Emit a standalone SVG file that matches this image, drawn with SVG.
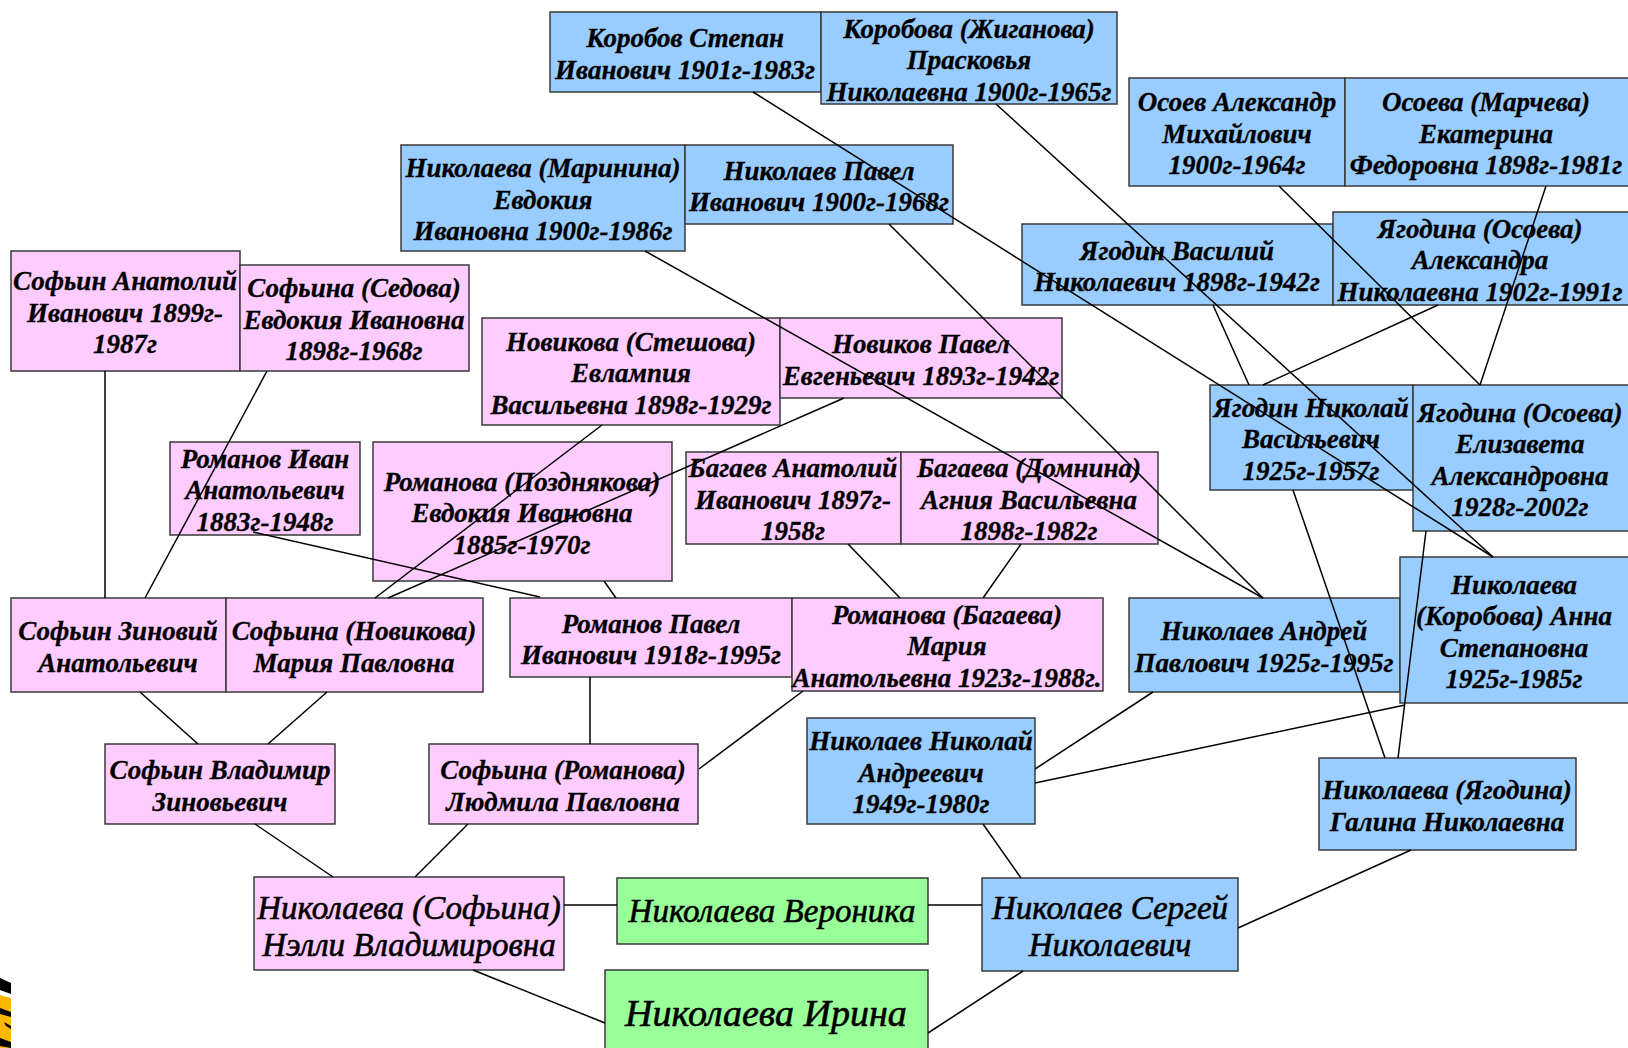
<svg xmlns="http://www.w3.org/2000/svg" width="1628" height="1048" viewBox="0 0 1628 1048">
<style>
.box{stroke:#3a3a3a;stroke-width:1.5}
.b{fill:#99CCFF}.p{fill:#FFCCFF}.g{fill:#99FF99}
text{font-family:"Liberation Serif","Times New Roman",serif;font-style:italic;font-weight:bold;font-size:27px;text-anchor:middle;fill:#000;stroke:#000;stroke-width:0.3}
.L{font-weight:normal;font-size:33px;stroke-width:0.6}
.XL{font-weight:normal;font-size:38px;stroke-width:0.6}
#connectors line{stroke:#000;stroke-width:1.5}
</style>
<rect width="1628" height="1048" fill="#fff"/>
<g id="n-korobov"><rect class="box b" x="550" y="12" width="271" height="80"/><text x="685" y="47">Коробов Степан</text><text x="685" y="79">Иванович 1901г-1983г</text></g>
<g id="n-korobova"><rect class="box b" x="821" y="12" width="296" height="92"/><text x="969" y="38">Коробова (Жиганова)</text><text x="969" y="69">Прасковья</text><text x="969" y="101">Николаевна 1900г-1965г</text></g>
<g id="n-osoev"><rect class="box b" x="1129" y="78" width="216" height="108"/><text x="1237" y="111">Осоев Александр</text><text x="1237" y="143">Михайлович</text><text x="1237" y="174">1900г-1964г</text></g>
<g id="n-osoeva"><rect class="box b" x="1345" y="78" width="284" height="108"/><text x="1486" y="111">Осоева (Марчева)</text><text x="1486" y="143">Екатерина</text><text x="1486" y="174">Федоровна 1898г-1981г</text></g>
<g id="n-marinina"><rect class="box b" x="401" y="145" width="284" height="106"/><text x="543" y="177">Николаева (Маринина)</text><text x="543" y="209">Евдокия</text><text x="543" y="240">Ивановна 1900г-1986г</text></g>
<g id="n-nikolaev-pavel"><rect class="box b" x="685" y="145" width="268" height="79"/><text x="819" y="180">Николаев Павел</text><text x="819" y="211">Иванович 1900г-1968г</text></g>
<g id="n-yagodin-vasily"><rect class="box b" x="1022" y="224" width="311" height="81"/><text x="1177" y="260">Ягодин Василий</text><text x="1177" y="291">Николаевич 1898г-1942г</text></g>
<g id="n-yagodina-aleksandra"><rect class="box b" x="1333" y="212" width="296" height="93"/><text x="1480" y="238">Ягодина (Осоева)</text><text x="1480" y="269">Александра</text><text x="1480" y="301">Николаевна 1902г-1991г</text></g>
<g id="n-sofyin-anatoly"><rect class="box p" x="11" y="251" width="229" height="120"/><text x="125" y="290">Софьин Анатолий</text><text x="125" y="322">Иванович 1899г-</text><text x="125" y="353">1987г</text></g>
<g id="n-sofyina-sedova"><rect class="box p" x="240" y="265" width="229" height="106"/><text x="354" y="297">Софьина (Седова)</text><text x="354" y="329">Евдокия Ивановна</text><text x="354" y="360">1898г-1968г</text></g>
<g id="n-novikova"><rect class="box p" x="482" y="318" width="298" height="107"/><text x="631" y="351">Новикова (Стешова)</text><text x="631" y="382">Евлампия</text><text x="631" y="414">Васильевна 1898г-1929г</text></g>
<g id="n-novikov"><rect class="box p" x="780" y="318" width="282" height="80"/><text x="921" y="353">Новиков Павел</text><text x="921" y="385">Евгеньевич 1893г-1942г</text></g>
<g id="n-yagodin-nikolay"><rect class="box b" x="1210" y="385" width="203" height="105"/><text x="1311" y="417">Ягодин Николай</text><text x="1311" y="448">Васильевич</text><text x="1311" y="480">1925г-1957г</text></g>
<g id="n-yagodina-elizaveta"><rect class="box b" x="1413" y="385" width="216" height="146"/><text x="1520" y="422">Ягодина (Осоева)</text><text x="1520" y="453">Елизавета</text><text x="1520" y="485">Александровна</text><text x="1520" y="516">1928г-2002г</text></g>
<g id="n-romanov-ivan"><rect class="box p" x="170" y="442" width="190" height="93"/><text x="265" y="468">Романов Иван</text><text x="265" y="499">Анатольевич</text><text x="265" y="531">1883г-1948г</text></g>
<g id="n-romanova-pozdnyakova"><rect class="box p" x="373" y="442" width="299" height="139"/><text x="522" y="491">Романова (Позднякова)</text><text x="522" y="522">Евдокия Ивановна</text><text x="522" y="554">1885г-1970г</text></g>
<g id="n-bagaev"><rect class="box p" x="686" y="452" width="215" height="92"/><text x="793" y="477">Багаев Анатолий</text><text x="793" y="509">Иванович 1897г-</text><text x="793" y="540">1958г</text></g>
<g id="n-bagaeva"><rect class="box p" x="901" y="452" width="257" height="92"/><text x="1029" y="477">Багаева (Домнина)</text><text x="1029" y="509">Агния Васильевна</text><text x="1029" y="540">1898г-1982г</text></g>
<g id="n-sofyin-zinovy"><rect class="box p" x="11" y="598" width="215" height="94"/><text x="118" y="640">Софьин Зиновий</text><text x="118" y="672">Анатольевич</text></g>
<g id="n-sofyina-novikova"><rect class="box p" x="226" y="598" width="257" height="94"/><text x="354" y="640">Софьина (Новикова)</text><text x="354" y="672">Мария Павловна</text></g>
<g id="n-romanov-pavel"><rect class="box p" x="510" y="598" width="282" height="79"/><text x="651" y="633">Романов Павел</text><text x="651" y="664">Иванович 1918г-1995г</text></g>
<g id="n-romanova-bagaeva"><rect class="box p" x="792" y="598" width="311" height="93"/><text x="947" y="624">Романова (Багаева)</text><text x="947" y="655">Мария</text><text x="947" y="687">Анатольевна 1923г-1988г.</text></g>
<g id="n-nikolaev-andrey"><rect class="box b" x="1129" y="598" width="271" height="94"/><text x="1264" y="640">Николаев Андрей</text><text x="1264" y="672">Павлович 1925г-1995г</text></g>
<g id="n-nikolaeva-anna"><rect class="box b" x="1400" y="557" width="229" height="146"/><text x="1514" y="594">Николаева</text><text x="1514" y="625">(Коробова) Анна</text><text x="1514" y="657">Степановна</text><text x="1514" y="688">1925г-1985г</text></g>
<g id="n-sofyin-vladimir"><rect class="box p" x="105" y="744" width="230" height="80"/><text x="220" y="779">Софьин Владимир</text><text x="220" y="811">Зиновьевич</text></g>
<g id="n-sofyina-lyudmila"><rect class="box p" x="429" y="744" width="269" height="80"/><text x="563" y="779">Софьина (Романова)</text><text x="563" y="811">Людмила Павловна</text></g>
<g id="n-nikolaev-nikolay"><rect class="box b" x="807" y="718" width="228" height="106"/><text x="921" y="750">Николаев Николай</text><text x="921" y="782">Андреевич</text><text x="921" y="813">1949г-1980г</text></g>
<g id="n-nikolaeva-galina"><rect class="box b" x="1319" y="758" width="257" height="92"/><text x="1447" y="799">Николаева (Ягодина)</text><text x="1447" y="831">Галина Николаевна</text></g>
<g id="n-nelli"><rect class="box p" x="254" y="877" width="310" height="93"/><text class="L" x="409" y="919">Николаева (Софьина)</text><text class="L" x="409" y="956">Нэлли Владимировна</text></g>
<g id="n-veronika"><rect class="box g" x="617" y="878" width="311" height="66"/><text class="L" x="772" y="922">Николаева Вероника</text></g>
<g id="n-sergey"><rect class="box b" x="982" y="878" width="256" height="93"/><text class="L" x="1110" y="919">Николаев Сергей</text><text class="L" x="1110" y="956">Николаевич</text></g>
<g id="n-irina"><rect class="box g" x="605" y="970" width="323" height="90"/><text class="XL" x="766" y="1026">Николаева Ирина</text></g>
<g id="connectors">
<line x1="753" y1="92" x2="1493" y2="557"/>
<line x1="996" y1="104" x2="1493" y2="557"/>
<line x1="1279" y1="186" x2="1480" y2="385"/>
<line x1="1546" y1="186" x2="1480" y2="385"/>
<line x1="645" y1="251" x2="1263" y2="598"/>
<line x1="889" y1="224" x2="1263" y2="598"/>
<line x1="1213" y1="305" x2="1249" y2="385"/>
<line x1="1438" y1="305" x2="1263" y2="385"/>
<line x1="1293" y1="490" x2="1385" y2="758"/>
<line x1="1426" y1="531" x2="1398" y2="758"/>
<line x1="1153" y1="692" x2="1035" y2="769"/>
<line x1="1405" y1="705" x2="1035" y2="783"/>
<line x1="983" y1="824" x2="1021" y2="878"/>
<line x1="1411" y1="850" x2="1238" y2="928"/>
<line x1="564" y1="905" x2="617" y2="905"/>
<line x1="928" y1="905" x2="982" y2="905"/>
<line x1="473" y1="970" x2="605" y2="1023"/>
<line x1="928" y1="1033" x2="1023" y2="971"/>
<line x1="255" y1="824" x2="333" y2="877"/>
<line x1="468" y1="824" x2="415" y2="877"/>
<line x1="140" y1="692" x2="198" y2="744"/>
<line x1="327" y1="692" x2="268" y2="744"/>
<line x1="590" y1="677" x2="590" y2="744"/>
<line x1="803" y1="691" x2="699" y2="769"/>
<line x1="105" y1="371" x2="105" y2="598"/>
<line x1="267" y1="371" x2="145" y2="598"/>
<line x1="602" y1="425" x2="375" y2="598"/>
<line x1="844" y1="398" x2="388" y2="598"/>
<line x1="253" y1="532" x2="540" y2="597"/>
<line x1="604" y1="581" x2="616" y2="598"/>
<line x1="848" y1="544" x2="900" y2="598"/>
<line x1="1021" y1="544" x2="983" y2="598"/>
</g>
<g id="corner-mark">
<polygon points="0,978 11,983 11,994 0,990" fill="#000"/>
<polygon points="0,995 11,998 11,1048 0,1048" fill="#FFB800"/>
<polygon points="0,1008 11,1012 11,1017 0,1014" fill="#000"/>
<polygon points="4,1022 11,1026 11,1029 6,1026" fill="#000"/>
<polygon points="0,1038 11,1042 11,1048 0,1046" fill="#000"/>
</g>
</svg>
